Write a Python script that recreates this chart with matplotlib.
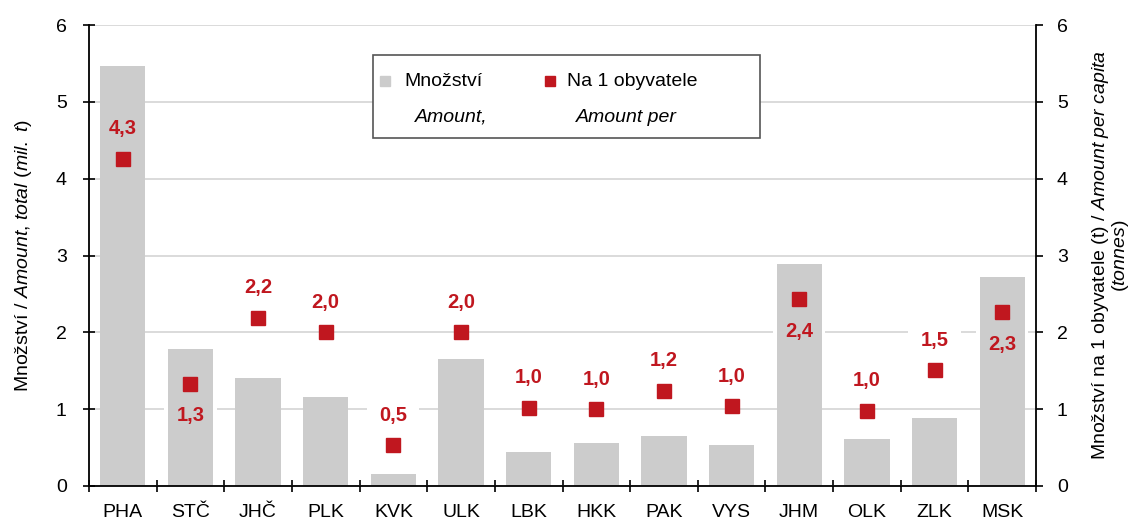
import matplotlib.pyplot as plt
from matplotlib.patches import Rectangle
from matplotlib.lines import Line2D
import numpy as np

plt.rcParams['font.family'] = ['Liberation Sans', 'DejaVu Sans']
plt.rcParams['mathtext.fontset'] = 'custom'
plt.rcParams['mathtext.rm'] = 'Liberation Sans'
plt.rcParams['mathtext.it'] = 'Liberation Sans:italic'

regions = ["PHA", "STČ", "JHČ", "PLK", "KVK", "ULK", "LBK", "HKK", "PAK", "VYS", "JHM", "OLK", "ZLK", "MSK"]
amount = [5.47, 1.78, 1.41, 1.16, 0.16, 1.65, 0.44, 0.56, 0.65, 0.53, 2.89, 0.61, 0.885, 2.72]
per_capita = [4.26, 1.33, 2.19, 2.00, 0.53, 2.00, 1.02, 1.00, 1.24, 1.04, 2.43, 0.98, 1.51, 2.26]
label_below = [False, True, False, False, False, False, False, False, False, False, True, False, False, True]

GRAY = "#cccccc"
RED = "#c0171f"
FS = 14

fig = plt.figure(figsize=(11.31, 5.21), dpi=100)
ax = fig.add_axes([89 / 1131, 35 / 521, 947 / 1131, 461 / 521])
x = np.arange(len(regions))

ax.bar(x, amount, width=0.67, color=GRAY, zorder=2)
ax.plot(x, per_capita, linestyle="none", marker="s", markersize=10, color=RED, zorder=4)

for xi, v, below in zip(x, per_capita, label_below):
    txt = f"{v:.1f}".replace(".", ",")
    off = (0, -23 if below else 21.5)
    kw = dict(textcoords="offset points", ha="center", va="center", fontsize=14.5, fontweight="bold")
    # white box behind the bars, so it only hides the gridlines
    ax.annotate(txt, (xi, v), xytext=off, color="white",
                bbox=dict(boxstyle="square,pad=0.6", fc="white", ec="none"), zorder=1, **kw)
    ax.annotate(txt, (xi, v), xytext=off, color=RED, zorder=5, **kw)

ax.set_xlim(-0.5, len(regions) - 0.5)
ax.set_ylim(0, 6)
ax.set_yticks(range(7))
ax.yaxis.grid(True, color="#d4d4d4", linewidth=1.2, zorder=0)
ax.set_axisbelow(True)
ax.set_xticks(x)
ax.set_xticklabels(regions, fontsize=FS)
ax.set_xticks(np.arange(-0.5, len(regions), 1), minor=True)
ax.tick_params(axis="x", which="major", length=0, pad=13)
ax.tick_params(axis="x", which="minor", length=8, direction="inout", width=1.2)
ax.tick_params(axis="y", labelsize=FS, length=8, direction="inout", width=1.2, pad=12)
for s in ["top", "right"]:
    ax.spines[s].set_visible(False)
for s in ["left", "bottom"]:
    ax.spines[s].set_linewidth(1.3)
ax.set_ylabel(r"Množství / $Amount{,}\ total\ (mil{.}\ t)$", fontsize=FS, labelpad=16)

ax2 = ax.twinx()
ax2.set_ylim(0, 6)
ax2.set_yticks(range(7))
ax2.patch.set_visible(False)
for s in ["top", "left", "bottom"]:
    ax2.spines[s].set_visible(False)
ax2.spines["right"].set_linewidth(1.3)
ax2.tick_params(axis="y", labelsize=FS, length=5, direction="out", width=1.2, pad=10)
ax2.set_ylabel("Množství na 1 obyvatele (t) / $Amount\\ per\\ capita$\n$(tonnes)$",
               fontsize=FS, labelpad=16, linespacing=0.95)

# legend box
ax.add_patch(Rectangle((0.300, 0.755), 0.409, 0.180, transform=ax.transAxes,
                       fc="white", ec="#555555", lw=1.2, zorder=6))
ax.add_line(Line2D([0.313], [0.878], transform=ax.transAxes, marker="s", markersize=7,
                   color=GRAY, linestyle="none", zorder=7))
ax.add_line(Line2D([0.487], [0.878], transform=ax.transAxes, marker="s", markersize=7,
                   color=RED, linestyle="none", zorder=7))
ax.text(0.333, 0.878, "Množství", transform=ax.transAxes, fontsize=FS, va="center", zorder=7)
ax.text(0.505, 0.878, "Na 1 obyvatele", transform=ax.transAxes, fontsize=FS, va="center", zorder=7)
ax.text(0.344, 0.800, "Amount,", transform=ax.transAxes, fontsize=FS, va="center",
        style="italic", zorder=7)
ax.text(0.514, 0.800, "Amount per", transform=ax.transAxes, fontsize=FS, va="center",
        style="italic", zorder=7)

fig.savefig("out.png", dpi=100)
